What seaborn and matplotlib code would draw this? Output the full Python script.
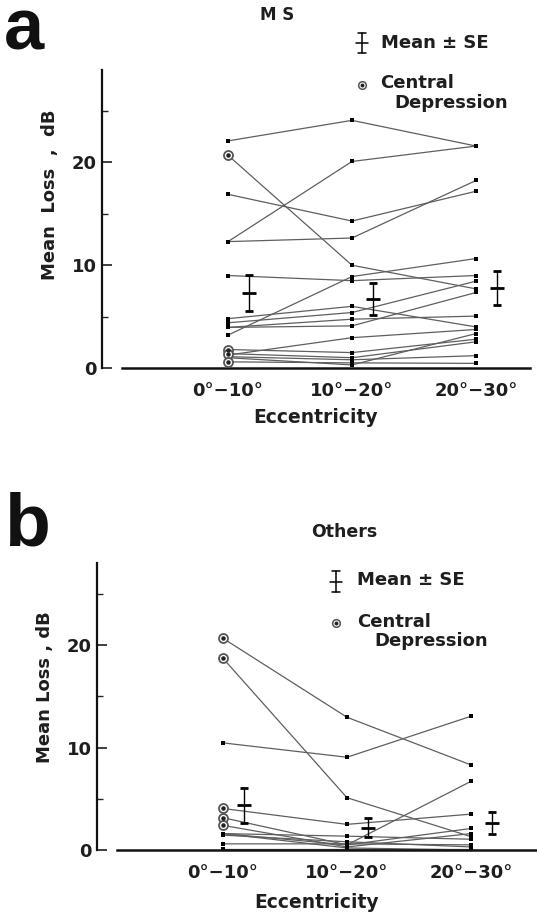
import numpy as np
import pandas as pd
import matplotlib
matplotlib.use("Agg")
import matplotlib.pyplot as plt
from matplotlib.lines import Line2D
import seaborn as sns

# ---------------- data ----------------
categories = ["0°\u221210°", "10°\u221220°", "20°\u221230°"]

# Panel a : MS  (one value per subject per eccentricity band)
ms_0_10  = [22.1, 20.7, 16.9, 12.3, 12.3, 9.0, 3.2, 4.8, 4.4, 3.95, 3.95, 1.26, 1.8, 1.4, 1.1, 0.6, 1.0]
ms_10_20 = [24.1, 10.0, 14.3, 12.65, 20.1, 8.5, 8.9, 6.0, 5.4, 4.1, 4.75, 2.95, 1.5, 1.0, 0.8, 0.5, 0.3]
ms_20_30 = [21.6, 7.7, 17.2, 18.25, 21.6, 9.0, 10.65, 4.0, 8.45, 7.35, 5.05, 3.75, 2.8, 2.55, 1.2, 0.45, 3.35]
ms_central = [False, True, False, False, False, False, False, False, False, False, False,
              False, True, True, False, True, False]
ms_mean = [7.3, 6.7, 7.75]
ms_se = [1.75, 1.55, 1.65]

# Panel b : Others
oth_0_10  = [20.65, 18.7, 10.45, 4.05, 1.6, 3.15, 2.4, 1.6, 1.45, 0.6, 0.1, 1.6]
oth_10_20 = [12.95, 5.1, 9.05, 2.5, 0.5, 0.5, 0.3, 1.35, 0.8, 0.6, 0.1, 0.2]
oth_20_30 = [8.3, 1.3, 13.05, 3.5, 6.7, 2.1, 1.6, 1.05, 0.3, 0.5, 0.1, 0.0]
oth_central = [True, True, False, True, False, True, True, False, False, False, False, False]
oth_mean = [4.37, 2.17, 2.6]
oth_se = [1.7, 0.95, 1.07]

# ---------------- style ----------------
sns.set_theme(style="ticks")
plt.rcParams["font.family"] = ["DejaVu Sans"]
plt.rcParams["font.weight"] = "bold"
TXT = "#1e1e1e"

W, H = 537, 913
fig = plt.figure(figsize=(W / 100, H / 100), dpi=100)
fig.patch.set_facecolor("white")


def fx(x):
    return x / W


def fy(y):
    return 1 - y / H


def long_df(c0, c1, c2, central):
    rows = []
    for i, vals in enumerate(zip(c0, c1, c2)):
        for j, v in enumerate(vals):
            rows.append({"subject": i, "pos": j, "loss": v,
                         "central": bool(central[i]) and j == 0})
    return pd.DataFrame(rows)


def panel(rect, ymax, df, means, ses, ylabel, ylab_xy, xlabelpad):
    ax = fig.add_axes(rect)
    sns.lineplot(data=df, x="pos", y="loss", units="subject", estimator=None,
                 color="#5f5f5f", lw=0.9, marker="s", markersize=2.5,
                 markeredgewidth=0, markerfacecolor="black", ax=ax,
                 legend=False, sort=False)
    cd = df[df["central"]]
    ax.scatter(cd["pos"], cd["loss"], s=42, facecolors="white",
               edgecolors="#555555", linewidths=1.3, zorder=4)
    ax.scatter(cd["pos"], cd["loss"], s=5, color="#222222", zorder=5)
    x = np.arange(len(means)) + 0.17
    ax.errorbar(x, means, yerr=ses, fmt="_", markersize=9.5, mew=2.0,
                color="black", ecolor="black", elinewidth=1.0,
                capsize=3.0, capthick=1.0, zorder=6)
    ax.set_ylim(0, ymax)
    ax.set_yticks([0, 10, 20])
    ax.set_yticks([5, 15, 25], minor=True)
    ax.tick_params(axis="y", which="major", direction="in", length=7,
                   width=1.2, labelsize=13, pad=4, colors=TXT)
    ax.tick_params(axis="y", which="minor", direction="in", length=4,
                   width=1.0)
    ax.set_xticks(range(len(categories)))
    ax.set_xticklabels(categories)
    ax.tick_params(axis="x", length=0, labelsize=13, pad=10, colors=TXT)
    for lab in ax.get_xticklabels() + ax.get_yticklabels():
        lab.set_fontweight("bold")
    ax.spines["top"].set_visible(False)
    ax.spines["right"].set_visible(False)
    ax.spines["left"].set_linewidth(1.6)
    ax.spines["bottom"].set_linewidth(1.8)
    ax.spines["left"].set_color("#111111")
    ax.spines["bottom"].set_color("#111111")
    ax.set_xlabel("Eccentricity", fontsize=13.5, fontweight="bold",
                  color=TXT, labelpad=xlabelpad)
    ax.set_ylabel(ylabel, fontsize=13, fontweight="bold", color=TXT,
                  va="center")
    ax.yaxis.set_label_coords(*ylab_xy)
    ax.grid(False)
    return ax


# ---------------- panel a ----------------
df_a = long_df(ms_0_10, ms_10_20, ms_20_30, ms_central)
xa0, xa1 = -(228 - 102) / 124, (530 - 228) / 124
ax_a = panel([fx(102), fy(368), (530 - 102) / W, (368 - 70) / H], 29, df_a,
             ms_mean, ms_se, "Mean  Loss  ,  dB",
             ((50 - 102) / 428, (368 - 195) / 298), 5.5)
ax_a.set_xlim(xa0, xa1)
ax_a.spines["bottom"].set_bounds(-(228 - 122) / 124, xa1)

# ---------------- panel b ----------------
df_b = long_df(oth_0_10, oth_10_20, oth_20_30, oth_central)
xb0, xb1 = -(223 - 97) / 124, (537 - 223) / 124
ax_b = panel([fx(97), fy(850), (537 - 97) / W, (850 - 563) / H], 28, df_b,
             oth_mean, oth_se, "Mean Loss , dB",
             ((45 - 97) / 440, (850 - 687) / 287), 8)
ax_b.set_xlim(xb0, xb1)
ax_b.spines["bottom"].set_bounds(-(223 - 117) / 124, xb1)

# ---------------- titles, panel letters ----------------
fig.text(fx(4), fy(50), "a", fontsize=52, fontweight="bold",
         family="Liberation Sans", va="baseline", ha="left",
         color="#111111")
fig.text(fx(4), fy(545), "b", fontsize=54, fontweight="bold",
         family="Liberation Sans", va="baseline", ha="left",
         color="#111111")
fig.text(fx(277), fy(15), "M S", fontsize=12, fontweight="bold",
         ha="center", va="center", color=TXT)
fig.text(fx(344), fy(532), "Others", fontsize=12.5, fontweight="bold",
         ha="center", va="center", color=TXT)


# ---------------- legends ----------------
def legend(ix, iy_top, iy_bot, tx, ty, cx, cy, c1x, c1y, c2x, c2y):
    mid = (iy_top + iy_bot) / 2
    seg = [((ix, iy_top), (ix, iy_bot)),
           ((ix - 4, iy_top), (ix + 4, iy_top)),
           ((ix - 4, iy_bot), (ix + 4, iy_bot)),
           ((ix - 6, mid), (ix + 6, mid))]
    for (x1, y1), (x2, y2) in seg:
        fig.add_artist(Line2D([fx(x1), fx(x2)], [fy(y1), fy(y2)],
                              transform=fig.transFigure, color="black",
                              lw=1.1))
    fig.text(fx(tx), fy(ty), "Mean \u00b1 SE", fontsize=13, fontweight="bold",
             ha="left", va="center", color=TXT)
    fig.add_artist(Line2D([fx(cx)], [fy(cy)], transform=fig.transFigure,
                          marker="o", ms=5.5, mfc="white", mec="#555555",
                          mew=1.1, lw=0))
    fig.add_artist(Line2D([fx(cx)], [fy(cy)], transform=fig.transFigure,
                          marker="o", ms=1.8, mfc="#222222", mec="#222222",
                          lw=0))
    fig.text(fx(c1x), fy(c1y), "Central", fontsize=13, fontweight="bold",
             ha="left", va="center", color=TXT)
    fig.text(fx(c2x), fy(c2y), "Depression", fontsize=13, fontweight="bold",
             ha="left", va="center", color=TXT)


legend(362, 33, 53, 381, 43, 362, 85, 380, 83, 394, 103)
legend(336, 571, 592, 357, 580, 336, 623, 357, 622, 374, 641)

fig.savefig("out.png", dpi=100, facecolor="white")
